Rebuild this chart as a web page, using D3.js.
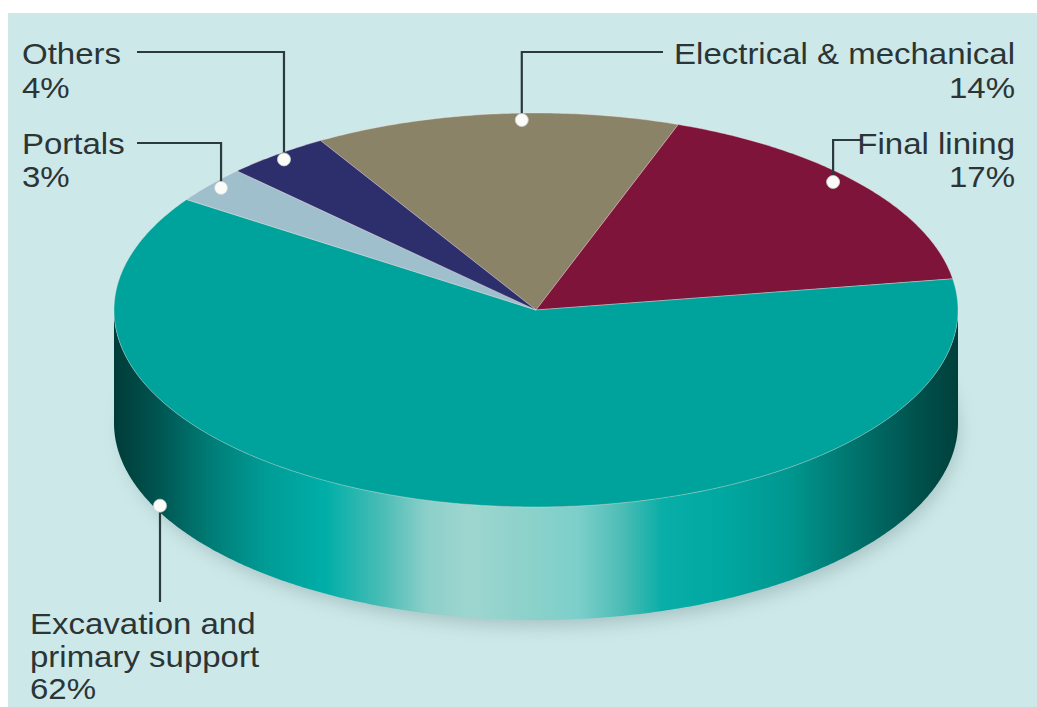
<!DOCTYPE html>
<html>
<head>
<meta charset="utf-8">
<script src="https://cdn.jsdelivr.net/npm/d3@7/dist/d3.min.js"></script>
<style>
  html, body { margin: 0; padding: 0; background: #ffffff; }
  svg { display: block; }
  text { font-family: "Liberation Sans", Arial, Helvetica, sans-serif; }
</style>
</head>
<body>
<svg id="chart" width="1037" height="707"></svg>
<script>
// ---------------- data ----------------
const categories = ["Electrical & mechanical", "Final lining", "Excavation and primary support", "Portals", "Others"];
const values = [14, 17, 62, 3, 4];
const labelLines = [
  ["Electrical & mechanical"],
  ["Final lining"],
  ["Excavation and", "primary support"],
  ["Portals"],
  ["Others"]
];

// ---------------- styles ----------------
const sliceColors = ["#8b8368", "#7e1439", "#00a39b", "#a0bfcc", "#2d2e6c"];
const sideStops = [
  [0.00, "#003c39"], [0.05, "#00534f"], [0.11, "#007a74"], [0.18, "#009c96"],
  [0.25, "#00aea8"], [0.32, "#4cbdb6"], [0.37, "#8ccfc9"], [0.42, "#9dd6cf"],
  [0.50, "#8ad1ca"], [0.55, "#7ccfca"], [0.60, "#4fbdb6"], [0.65, "#08aea7"],
  [0.72, "#00a8a1"], [0.80, "#009790"], [0.88, "#00726c"], [0.95, "#00524d"],
  [1.00, "#00403c"]
];

// ---------------- layout ----------------
const W = 1037, H = 707;
const cx = 536, cy = 310, rx = 422, ry = 197, depth = 113;
const startDeg = -30.7;
const textColor = "#2b3536";
const fontSize = 30, stretch = 1.1;

// per-label layout: anchor, text x, first baseline, line step, leader elbow
const labelLayout = [
  { anchor: "end",   tx: 1015, ty: 64,  step: 34, lineStartX: 663, elbowY: 52,  angOff: 3.5,  r: 0.965 },
  { anchor: "end",   tx: 1015, ty: 154, step: 33, lineStartX: 862, elbowY: 140, angOff: -3.0, r: 0.958 },
  { anchor: "start", tx: 30,   ty: 634, step: 32.5, lineEndY: 602, side: true, angDeg: 243, depthFrac: 0.94 },
  { anchor: "start", tx: 22,   ty: 154, step: 33, lineStartX: 137, elbowY: 143, angOff: 0.2,  r: 0.970 },
  { anchor: "start", tx: 22,   ty: 64,  step: 34, lineStartX: 137, elbowY: 52,  angOff: -0.1, r: 0.970 }
];

const svg = d3.select("#chart");
const defs = svg.append("defs");

// background panel
svg.append("rect").attr("x", 8).attr("y", 13).attr("width", W - 8).attr("height", H - 13).attr("fill", "#cde8e9");

// projection of an angle (clockwise from 12 o'clock) onto the tilted ellipse
const px = (a, r = 1) => cx + rx * r * Math.sin(a);
const py = (a, r = 1) => cy - ry * r * Math.cos(a);

const color = d3.scaleOrdinal().domain(categories).range(sliceColors);
const start = startDeg * Math.PI / 180;
const pie = d3.pie().sort(null).value(d => d.value).startAngle(start).endAngle(start + 2 * Math.PI);
const data = categories.map((c, i) => ({ name: c, value: values[i], lines: labelLines[i], layout: labelLayout[i] }));
const arcs = pie(data);

const line = d3.line().x(d => d[0]).y(d => d[1]);
function sampleAngles(a0, a1) {
  const n = Math.max(2, Math.ceil(Math.abs(a1 - a0) / 0.01));
  return d3.range(n + 1).map(k => a0 + (a1 - a0) * k / n);
}

// shadow
const blur = defs.append("filter").attr("id", "blur").attr("x", "-20%").attr("y", "-20%").attr("width", "140%").attr("height", "140%");
blur.append("feGaussianBlur").attr("stdDeviation", 9);
svg.append("ellipse").attr("cx", cx + 4).attr("cy", cy + depth + 8).attr("rx", rx - 4).attr("ry", ry - 2)
  .attr("fill", "#5d7b7c").attr("opacity", 0.35).attr("filter", "url(#blur)");

// side gradient
const grad = defs.append("linearGradient").attr("id", "sideGrad").attr("gradientUnits", "userSpaceOnUse")
  .attr("x1", cx - rx).attr("x2", cx + rx).attr("y1", 0).attr("y2", 0);
grad.selectAll("stop").data(sideStops).join("stop").attr("offset", d => d[0]).attr("stop-color", d => d[1]);

// side walls (front half only)
const sideG = svg.append("g");
arcs.forEach(a => {
  let s0 = a.startAngle, s1 = a.endAngle;
  const off = Math.floor(s0 / (2 * Math.PI)) * 2 * Math.PI;
  s0 -= off; s1 -= off;
  const lo = Math.max(s0, Math.PI / 2), hi = Math.min(s1, 3 * Math.PI / 2);
  if (hi <= lo) return;
  const angs = sampleAngles(lo, hi);
  const pts = angs.map(t => [px(t), py(t)]).concat(angs.slice().reverse().map(t => [px(t), py(t) + depth]));
  sideG.append("path").attr("d", line(pts) + "Z").attr("fill", "url(#sideGrad)");
});

// top faces
svg.append("g").selectAll("path").data(arcs).join("path")
  .attr("d", a => line([[cx, cy]].concat(sampleAngles(a.startAngle, a.endAngle).map(t => [px(t), py(t)]))) + "Z")
  .attr("fill", a => color(a.data.name))
  .attr("stroke", "rgba(255,230,230,0.35)").attr("stroke-width", 1).attr("stroke-linejoin", "round");

// leader lines and dots
const leadG = svg.append("g");
arcs.forEach(a => {
  const L = a.data.layout;
  let dx, dy, pathPts;
  if (L.side) {
    const t = L.angDeg * Math.PI / 180;
    dx = px(t); dy = py(t) + depth * L.depthFrac;
    pathPts = [[dx, dy], [dx, L.lineEndY]];
  } else {
    const mid = (a.startAngle + a.endAngle) / 2 + L.angOff * Math.PI / 180;
    dx = px(mid, L.r); dy = py(mid, L.r);
    pathPts = [[L.lineStartX, L.elbowY], [dx, L.elbowY], [dx, dy]];
  }
  leadG.append("path").attr("d", line(pathPts)).attr("fill", "none")
    .attr("stroke", "#2b3a3a").attr("stroke-width", 2.2);
  leadG.append("circle").attr("cx", dx).attr("cy", dy).attr("r", 6.5)
    .attr("fill", "#fbfbf8").attr("stroke", "#c9d2d2").attr("stroke-width", 0.8);
});

// labels
const labG = svg.append("g");
arcs.forEach(a => {
  const L = a.data.layout;
  const lines = a.data.lines.concat([a.data.value + "%"]);
  lines.forEach((s, k) => {
    labG.append("text")
      .attr("transform", `translate(${L.tx},${L.ty + k * L.step}) scale(${stretch},1)`)
      .attr("text-anchor", L.anchor)
      .attr("font-size", fontSize)
      .attr("fill", textColor)
      .text(s);
  });
});
</script>
</body>
</html>
